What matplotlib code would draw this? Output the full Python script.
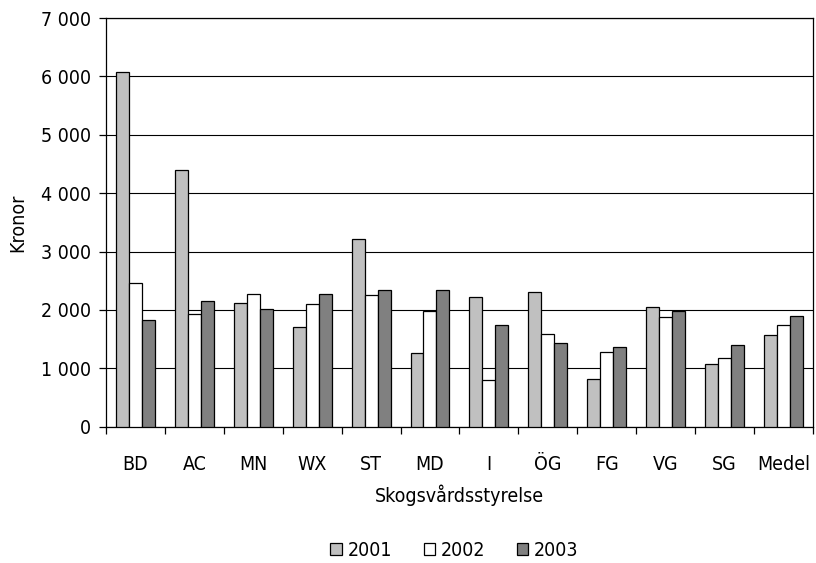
import matplotlib
matplotlib.use("Agg")
import matplotlib.pyplot as plt
from matplotlib.ticker import FuncFormatter, MultipleLocator
import numpy as np

categories = ["BD", "AC", "MN", "WX", "ST", "MD", "I", "ÖG", "FG", "VG", "SG", "Medel"]
years = ["2001", "2002", "2003"]
v2001 = [6070, 4390, 2120, 1700, 3210, 1255, 2215, 2305, 815, 2055, 1080, 1575]
v2002 = [2470, 1935, 2280, 2105, 2250, 1980, 795, 1590, 1285, 1885, 1170, 1745]
v2003 = [1830, 2160, 2020, 2280, 2350, 2350, 1745, 1430, 1360, 1980, 1395, 1900]
colors = ["#C0C0C0", "#FFFFFF", "#808080"]

plt.rcParams["font.family"] = ["DejaVu Sans"]
plt.rcParams["font.stretch"] = "condensed"
plt.rcParams["font.size"] = 14

fig = plt.figure(figsize=(8.16, 5.63), dpi=100)
ax = fig.add_axes([0.130, 0.242, 0.866, 0.726])

x = np.arange(len(categories))
w = 0.22
for i, (vals, c, lab) in enumerate(zip([v2001, v2002, v2003], colors, years)):
    ax.bar(x + (i - 1) * w, vals, width=w, color=c, edgecolor="black",
           linewidth=0.9, label=lab, zorder=3)

ax.set_xlim(-0.5, len(categories) - 0.5)
ax.set_ylim(0, 7000)
ax.yaxis.set_major_locator(MultipleLocator(1000))
ax.yaxis.set_major_formatter(FuncFormatter(lambda v, p: f"{int(v):,}".replace(",", " ")))
ax.grid(axis="y", color="black", linewidth=0.8, zorder=0)

ax.set_xticks(x)
ax.set_xticklabels(categories)
ax.set_xticks(np.arange(len(categories) + 1) - 0.5, minor=True)
ax.tick_params(axis="x", which="major", length=0, pad=20)
ax.tick_params(axis="x", which="minor", length=5, direction="out", width=0.9)
ax.tick_params(axis="y", length=5, direction="out", width=0.9, pad=6)

for s in ax.spines.values():
    s.set_linewidth(0.9)

ax.set_ylabel("Kronor", labelpad=10)
ax.set_xlabel("Skogsvårdsstyrelse", labelpad=8)

fig.legend(loc="lower center", bbox_to_anchor=(0.557, -0.025), ncol=3, frameon=False,
           handlelength=0.6, handleheight=0.6, handletextpad=0.3, columnspacing=1.6)

fig.savefig("out.png", dpi=100)
